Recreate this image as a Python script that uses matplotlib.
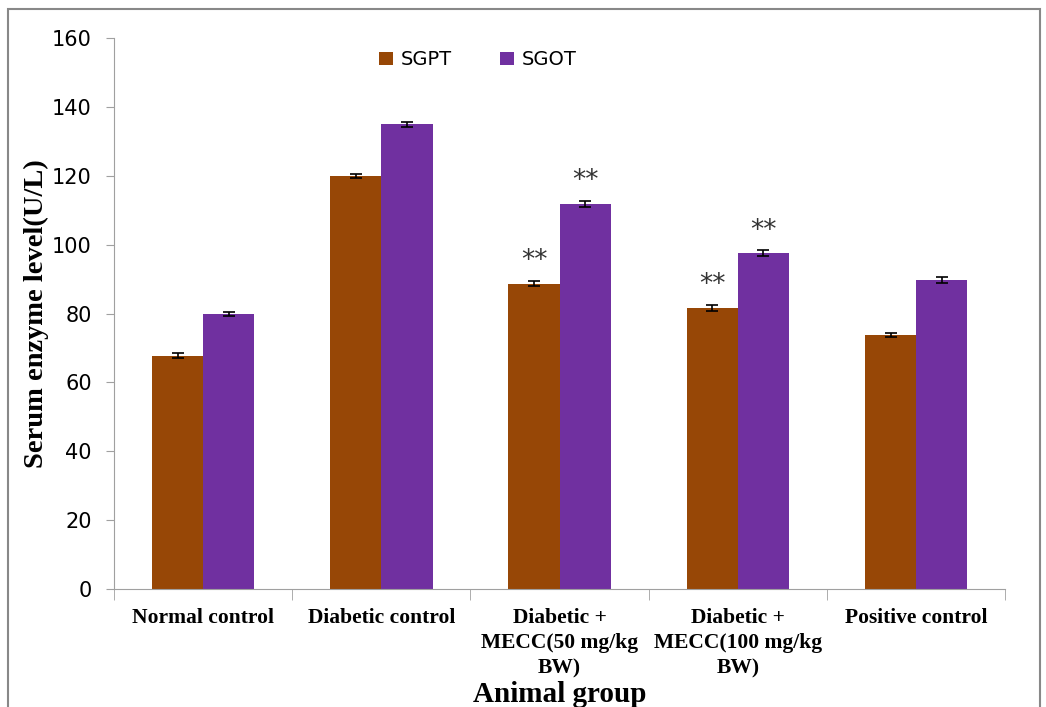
import numpy as np
import matplotlib.pyplot as plt
from matplotlib.patches import Rectangle

groups = ['Normal control', 'Diabetic control', 'Diabetic +\nMECC(50 mg/kg\nBW)',
          'Diabetic +\nMECC(100 mg/kg\nBW)', 'Positive control']
sgpt = [67.8, 119.9, 88.7, 81.6, 73.7]
sgot = [79.8, 135.0, 111.8, 97.5, 89.7]
sgpt_err = [0.7, 0.6, 0.8, 0.8, 0.6]
sgot_err = [0.6, 0.7, 0.8, 0.9, 0.9]
sgpt_sig = ['', '', '**', '**', '']
sgot_sig = ['', '', '**', '**', '']

c_sgpt = '#974706'
c_sgot = '#7030A0'

fig = plt.figure(figsize=(10.46, 7.07), dpi=100)
ax = fig.add_axes([0.109, 0.167, 0.852, 0.779])

x = np.arange(len(groups))
w = 0.287
ekw = dict(ecolor='black', elinewidth=1.2, capsize=4, capthick=1.2)
ax.bar(x - w / 2, sgpt, w, color=c_sgpt, label='SGPT', yerr=sgpt_err, error_kw=ekw)
ax.bar(x + w / 2, sgot, w, color=c_sgot, label='SGOT', yerr=sgot_err, error_kw=ekw)

# significance marks
for i in range(len(groups)):
    if sgpt_sig[i]:
        ax.text(x[i] - w / 2, sgpt[i] + 2.8, sgpt_sig[i], ha='center', va='bottom',
                fontsize=19, color='#333333')
    if sgot_sig[i]:
        ax.text(x[i] + w / 2, sgot[i] + 2.8, sgot_sig[i], ha='center', va='bottom',
                fontsize=19, color='#333333')

ax.set_xlim(-0.5, len(groups) - 0.5)
ax.set_ylim(0, 160)
ax.set_yticks(np.arange(0, 161, 20))
ax.tick_params(axis='y', labelsize=15, length=6, color='#a0a0a0', pad=10)

ax.set_xticks(x)
ax.set_xticklabels(groups, fontfamily='Liberation Serif', fontweight='bold', fontsize=15.5,
                   linespacing=1.33)
ax.set_xticks(np.arange(-0.5, len(groups), 1), minor=True)
ax.tick_params(axis='x', which='major', length=0, pad=14)
ax.tick_params(axis='x', which='minor', length=8, color='#a0a0a0')

for s in ['top', 'right']:
    ax.spines[s].set_visible(False)
for s in ['left', 'bottom']:
    ax.spines[s].set_color('#a0a0a0')

ax.set_ylabel('Serum enzyme level(U/L)', fontfamily='Liberation Serif', fontweight='bold',
              fontsize=20.5, labelpad=2)
ax.set_xlabel('Animal group', fontfamily='Liberation Serif', fontweight='bold',
              fontsize=21, labelpad=2)

ax.legend(loc='upper center', bbox_to_anchor=(0.408, 1.01), ncol=2, frameon=False,
          fontsize=14, handlelength=0.7, handleheight=0.7, columnspacing=2.5,
          handletextpad=0.4)

# outer chart border
fig.patches.append(Rectangle((8 / 1046, -0.05), 1032 / 1046, 1.05 - 9 / 707,
                             transform=fig.transFigure, fill=False,
                             edgecolor='#888888', linewidth=1.5))

fig.savefig('out.png', dpi=100)
